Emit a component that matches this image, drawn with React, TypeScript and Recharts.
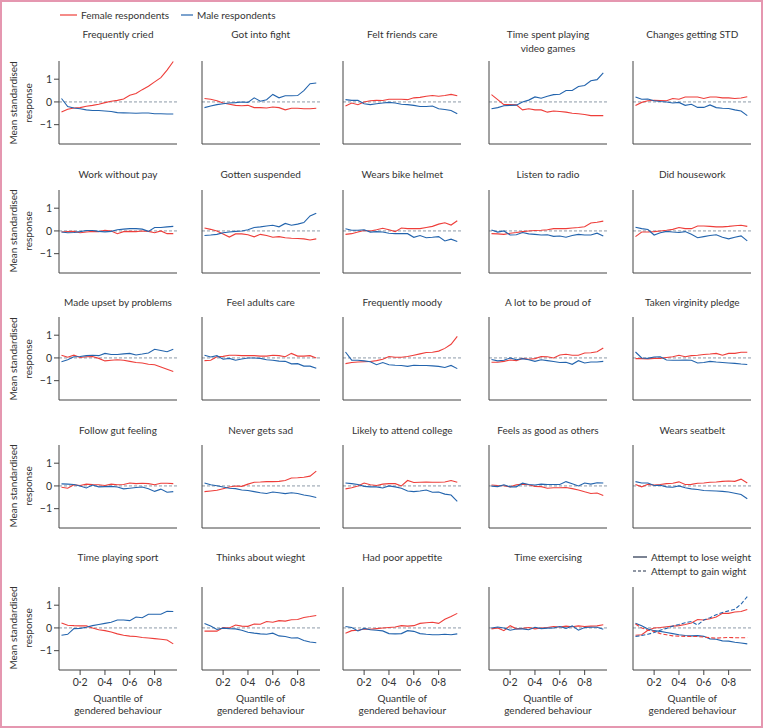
import React from "react";
import { LineChart, Line, XAxis, YAxis, ReferenceLine } from "recharts";

// quantile of gendered behaviour (x)
const QUANTILES = [0.05, 0.1, 0.15, 0.2, 0.25, 0.3, 0.35, 0.4, 0.45, 0.5, 0.55, 0.6, 0.65, 0.7, 0.75, 0.8, 0.85, 0.9, 0.95];
const X_TICKS = [0.2, 0.4, 0.6, 0.8];
const Y_TICKS = [-1, 0, 1];

// row 1
const criedF = [-0.44, -0.32, -0.27, -0.25, -0.19, -0.15, -0.1, -0.03, 0.03, 0.07, 0.13, 0.29, 0.37, 0.54, 0.69, 0.88, 1.07, 1.4, 1.78];
const criedM = [0.15, -0.2, -0.27, -0.3, -0.35, -0.38, -0.38, -0.4, -0.42, -0.47, -0.48, -0.49, -0.5, -0.49, -0.49, -0.52, -0.52, -0.53, -0.53];
const fightF = [0.15, 0.12, 0.05, -0.05, -0.1, -0.15, -0.17, -0.15, -0.25, -0.25, -0.27, -0.22, -0.25, -0.35, -0.28, -0.28, -0.3, -0.3, -0.28];
const fightM = [-0.25, -0.18, -0.12, -0.08, -0.05, -0.03, 0.0, -0.02, 0.18, 0.03, 0.1, 0.33, 0.18, 0.27, 0.27, 0.28, 0.5, 0.8, 0.83];
const friendsF = [-0.18, -0.05, -0.12, 0.0, 0.05, 0.07, 0.06, 0.12, 0.12, 0.12, 0.1, 0.18, 0.2, 0.25, 0.28, 0.25, 0.28, 0.33, 0.27];
const friendsM = [0.1, 0.07, 0.07, -0.08, -0.12, -0.08, -0.05, -0.02, -0.05, -0.1, -0.12, -0.15, -0.2, -0.2, -0.18, -0.3, -0.33, -0.38, -0.52];
const videoF = [0.32, 0.1, -0.12, -0.12, -0.13, -0.35, -0.3, -0.35, -0.35, -0.45, -0.4, -0.42, -0.45, -0.5, -0.52, -0.55, -0.6, -0.6, -0.6];
const videoM = [-0.3, -0.25, -0.17, -0.15, -0.14, 0.0, 0.08, 0.22, 0.16, 0.25, 0.32, 0.34, 0.5, 0.5, 0.68, 0.72, 0.93, 0.98, 1.28];
const stdF = [-0.16, -0.02, 0.05, 0.07, 0.06, 0.05, 0.15, 0.12, 0.22, 0.22, 0.22, 0.15, 0.22, 0.22, 0.18, 0.18, 0.15, 0.17, 0.23];
const stdM = [0.22, 0.12, 0.13, 0.05, 0.02, 0.0, -0.05, -0.02, -0.15, -0.1, -0.24, -0.24, -0.13, -0.25, -0.28, -0.29, -0.35, -0.4, -0.6];

// row 2
const payF = [-0.05, -0.03, -0.02, -0.08, -0.05, -0.02, -0.03, 0.03, 0.0, -0.12, -0.03, -0.02, -0.03, 0.0, -0.02, -0.08, 0.0, -0.12, -0.12];
const payM = [-0.05, -0.08, -0.07, -0.03, 0.02, 0.02, -0.02, -0.04, -0.02, 0.05, 0.08, 0.1, 0.1, 0.08, -0.02, 0.15, 0.15, 0.18, 0.2];
const suspendedF = [0.13, 0.07, 0.0, -0.13, -0.27, -0.13, -0.13, -0.17, -0.26, -0.15, -0.2, -0.28, -0.25, -0.3, -0.32, -0.33, -0.35, -0.4, -0.35];
const suspendedM = [-0.2, -0.18, -0.15, -0.08, -0.05, -0.02, 0.0, 0.05, 0.15, 0.18, 0.22, 0.25, 0.18, 0.33, 0.25, 0.3, 0.37, 0.66, 0.78];
const helmetF = [-0.15, -0.12, -0.05, 0.02, 0.0, 0.05, 0.12, 0.05, -0.03, 0.13, 0.1, 0.1, 0.1, 0.15, 0.2, 0.3, 0.36, 0.26, 0.45];
const helmetM = [0.1, 0.03, 0.03, 0.05, -0.05, -0.03, -0.05, -0.1, -0.12, -0.12, -0.12, -0.28, -0.2, -0.3, -0.28, -0.25, -0.44, -0.36, -0.46];
const radioF = [-0.12, -0.13, -0.15, -0.1, -0.07, -0.03, 0.0, 0.02, 0.03, 0.05, 0.1, 0.1, 0.1, 0.13, 0.15, 0.18, 0.35, 0.38, 0.43];
const radioM = [0.04, -0.05, 0.0, -0.18, -0.17, -0.07, -0.13, -0.15, -0.18, -0.17, -0.24, -0.22, -0.28, -0.2, -0.15, -0.18, -0.18, -0.1, -0.22];
const houseF = [-0.25, -0.05, -0.05, -0.03, 0.0, 0.03, 0.07, 0.15, 0.1, 0.1, 0.22, 0.22, 0.2, 0.18, 0.18, 0.2, 0.23, 0.25, 0.2];
const houseM = [0.16, 0.1, 0.06, -0.18, -0.08, -0.02, -0.05, -0.07, -0.03, -0.15, -0.3, -0.25, -0.2, -0.17, -0.28, -0.35, -0.28, -0.22, -0.44];

// row 3
const upsetF = [0.12, 0.03, 0.12, 0.02, 0.05, 0.06, -0.02, -0.13, -0.1, -0.08, -0.1, -0.15, -0.2, -0.22, -0.28, -0.3, -0.4, -0.5, -0.6];
const upsetM = [-0.17, -0.08, 0.05, 0.06, 0.1, 0.12, 0.1, 0.2, 0.15, 0.15, 0.18, 0.2, 0.13, 0.17, 0.22, 0.38, 0.33, 0.27, 0.38];
const adultsF = [-0.12, -0.1, 0.05, 0.07, 0.12, 0.12, 0.1, 0.1, 0.1, 0.08, 0.08, 0.12, 0.1, 0.05, 0.2, 0.08, 0.08, 0.1, 0.0];
const adultsM = [0.12, 0.04, 0.1, -0.06, -0.02, -0.1, -0.05, 0.0, 0.0, -0.02, -0.08, -0.1, -0.14, -0.15, -0.26, -0.25, -0.36, -0.36, -0.45];
const moodyF = [-0.25, -0.2, -0.18, -0.17, -0.16, -0.12, -0.06, 0.06, 0.03, 0.03, 0.06, 0.12, 0.18, 0.24, 0.25, 0.3, 0.42, 0.6, 0.95];
const moodyM = [0.26, -0.1, -0.1, -0.13, -0.17, -0.3, -0.2, -0.3, -0.32, -0.33, -0.37, -0.32, -0.33, -0.33, -0.35, -0.37, -0.42, -0.33, -0.47];
const proudF = [-0.19, -0.19, -0.15, -0.09, -0.12, -0.02, -0.06, -0.03, 0.06, 0.05, 0.0, 0.13, 0.16, 0.12, 0.12, 0.22, 0.23, 0.27, 0.44];
const proudM = [-0.07, -0.13, -0.1, 0.0, -0.08, -0.03, -0.08, -0.15, -0.08, -0.12, -0.16, -0.2, -0.19, -0.28, -0.12, -0.22, -0.18, -0.18, -0.15];
const pledgeF = [-0.03, -0.03, -0.04, -0.02, -0.02, 0.02, 0.05, 0.12, 0.05, 0.1, 0.12, 0.15, 0.17, 0.2, 0.12, 0.2, 0.2, 0.25, 0.25];
const pledgeM = [0.26, 0.0, -0.02, 0.04, 0.05, -0.09, -0.1, -0.1, -0.09, -0.1, -0.22, -0.2, -0.15, -0.18, -0.2, -0.22, -0.24, -0.27, -0.29];

// row 4
const gutF = [-0.06, -0.1, 0.05, 0.02, 0.08, 0.06, 0.05, 0.02, 0.08, 0.05, 0.06, 0.13, 0.1, 0.12, 0.1, 0.05, 0.12, 0.12, 0.1];
const gutM = [0.09, 0.08, 0.06, 0.0, -0.09, 0.04, -0.04, -0.03, -0.02, -0.05, -0.13, -0.1, -0.07, -0.05, -0.12, -0.24, -0.14, -0.28, -0.25];
const sadF = [-0.25, -0.22, -0.19, -0.12, -0.05, 0.0, -0.02, 0.08, 0.16, 0.17, 0.19, 0.19, 0.2, 0.24, 0.35, 0.36, 0.38, 0.43, 0.65];
const sadM = [0.13, 0.05, 0.01, -0.05, -0.1, -0.12, -0.18, -0.2, -0.25, -0.3, -0.33, -0.27, -0.3, -0.34, -0.3, -0.33, -0.4, -0.44, -0.51];
const collegeF = [-0.13, -0.08, 0.0, 0.13, 0.05, 0.02, 0.08, 0.1, 0.1, 0.0, 0.24, 0.15, 0.16, 0.17, 0.16, 0.16, 0.17, 0.24, 0.16];
const collegeM = [0.13, 0.1, 0.06, -0.02, -0.04, -0.04, -0.09, 0.0, -0.04, -0.1, -0.22, -0.25, -0.22, -0.18, -0.28, -0.27, -0.36, -0.4, -0.68];
const goodF = [0.04, 0.02, 0.01, -0.04, 0.05, 0.08, 0.05, -0.02, -0.03, -0.1, -0.08, -0.08, -0.07, -0.12, -0.18, -0.26, -0.33, -0.31, -0.42];
const goodM = [-0.01, -0.03, 0.05, -0.04, -0.04, 0.12, 0.06, 0.04, 0.08, 0.06, 0.06, 0.06, 0.19, 0.1, 0.0, 0.13, 0.08, 0.14, 0.13];
const seatbeltF = [0.06, -0.04, 0.07, 0.04, 0.06, 0.1, 0.12, 0.18, 0.06, 0.07, 0.12, 0.13, 0.16, 0.17, 0.2, 0.22, 0.2, 0.3, 0.13];
const seatbeltM = [0.19, 0.13, 0.13, 0.02, 0.03, -0.04, -0.06, 0.0, -0.08, -0.13, -0.16, -0.2, -0.21, -0.22, -0.24, -0.27, -0.32, -0.38, -0.56];

// row 5
const sportF = [0.22, 0.12, 0.1, 0.09, 0.09, 0.0, -0.08, -0.12, -0.18, -0.26, -0.32, -0.36, -0.38, -0.42, -0.44, -0.47, -0.5, -0.53, -0.7];
const sportM = [-0.32, -0.28, -0.03, -0.02, 0.03, 0.1, 0.15, 0.2, 0.25, 0.35, 0.35, 0.32, 0.48, 0.45, 0.6, 0.6, 0.6, 0.73, 0.72];
const thinksF = [-0.14, -0.14, -0.14, 0.02, 0.0, 0.13, 0.08, 0.07, 0.17, 0.16, 0.28, 0.25, 0.32, 0.3, 0.36, 0.37, 0.46, 0.5, 0.55];
const thinksM = [0.19, 0.08, -0.07, -0.01, -0.03, -0.04, -0.1, -0.19, -0.23, -0.26, -0.28, -0.23, -0.35, -0.38, -0.44, -0.43, -0.55, -0.62, -0.65];
const appetiteF = [-0.23, -0.12, -0.1, -0.05, -0.06, -0.03, 0.0, 0.02, 0.04, 0.1, 0.08, 0.1, 0.2, 0.23, 0.25, 0.2, 0.38, 0.5, 0.64];
const appetiteM = [0.06, 0.02, -0.13, -0.02, -0.08, -0.1, -0.13, -0.25, -0.26, -0.25, -0.12, -0.15, -0.25, -0.28, -0.3, -0.3, -0.28, -0.3, -0.26];
const exerciseF = [-0.04, 0.0, -0.12, 0.1, -0.04, -0.02, 0.02, -0.04, 0.0, 0.02, 0.06, 0.04, 0.08, 0.05, 0.09, 0.06, 0.08, 0.09, 0.14];
const exerciseM = [0.0, 0.04, 0.0, -0.1, -0.05, -0.04, -0.08, 0.03, -0.03, -0.01, 0.0, 0.06, -0.02, 0.09, -0.1, 0.02, 0.03, 0.03, -0.06];
const loseF = [-0.32, -0.3, -0.1, 0.0, 0.02, 0.05, 0.08, 0.1, 0.15, 0.22, 0.37, 0.35, 0.4, 0.48, 0.64, 0.64, 0.7, 0.72, 0.81];
const loseM = [0.2, 0.1, -0.05, -0.12, -0.15, -0.2, -0.25, -0.3, -0.33, -0.35, -0.34, -0.37, -0.48, -0.5, -0.57, -0.58, -0.63, -0.66, -0.7];
const gainF = [0.17, 0.0, -0.1, -0.15, -0.25, -0.3, -0.35, -0.36, -0.37, -0.38, -0.38, -0.4, -0.43, -0.45, -0.43, -0.42, -0.43, -0.43, -0.43];
const gainM = [-0.38, -0.33, -0.28, -0.2, -0.1, -0.02, 0.08, 0.15, 0.23, 0.28, 0.13, 0.35, 0.45, 0.58, 0.68, 0.75, 0.82, 1.05, 1.38];

const TITLES = [
  "Frequently cried", "Got into fight", "Felt friends care", "Time spent playing\nvideo games", "Changes getting STD",
  "Work without pay", "Gotten suspended", "Wears bike helmet", "Listen to radio", "Did housework",
  "Made upset by problems", "Feel adults care", "Frequently moody", "A lot to be proud of", "Taken virginity pledge",
  "Follow gut feeling", "Never gets sad", "Likely to attend college", "Feels as good as others", "Wears seatbelt",
  "Time playing sport", "Thinks about wieght", "Had poor appetite", "Time exercising", "",
];
const FEMALE = [
  criedF, fightF, friendsF, videoF, stdF,
  payF, suspendedF, helmetF, radioF, houseF,
  upsetF, adultsF, moodyF, proudF, pledgeF,
  gutF, sadF, collegeF, goodF, seatbeltF,
  sportF, thinksF, appetiteF, exerciseF, loseF,
];
const MALE = [
  criedM, fightM, friendsM, videoM, stdM,
  payM, suspendedM, helmetM, radioM, houseM,
  upsetM, adultsM, moodyM, proudM, pledgeM,
  gutM, sadM, collegeM, goodM, seatbeltM,
  sportM, thinksM, appetiteM, exerciseM, loseM,
];

const RED = "#ee3e3a";
const BLUE = "#2364ad";
const INK = "#333";
const FONT = "Lato, 'Open Sans', sans-serif";
const FS = 10;

// layout
const COL_X = [59, 201.7, 343.3, 489, 633.3];
const ROW_TOP = [61, 189.5, 317, 444.5, 586.5];
const TITLE_Y = [34, 174, 302, 430, 557];
const PLOT_W = 118;
const PLOT_H = 83;
const Y_W = 40;
const M_TOP = 4;

const fmtX = (v: number) => v.toFixed(1).replace(".", "·");
const fmtY = (v: number) => (v < 0 ? "\u2212" + Math.abs(v) : String(v));

const Panel = ({ idx }: { idx: number }) => {
  const r = Math.floor(idx / 5);
  const c = idx % 5;
  const last = idx === 24;
  const xh = r === 4 ? 26 : 8;
  const data = QUANTILES.map((q, i) => ({
    q,
    f: FEMALE[idx][i],
    m: MALE[idx][i],
    fg: last ? gainF[i] : null,
    mg: last ? gainM[i] : null,
  }));
  const cx = COL_X[c] + PLOT_W / 2;
  const lines = TITLES[idx].split("\n");
  return (
    <>
      {lines.map((t, k) => (
        <div
          key={k}
          style={{
            position: "absolute",
            left: cx - 80,
            width: 160,
            top: TITLE_Y[r] - 7 + k * 13.7,
            height: 14,
            lineHeight: "14px",
            textAlign: "center",
            fontSize: FS,
            color: INK,
            whiteSpace: "nowrap",
          }}
        >
          {t}
        </div>
      ))}
      <div style={{ position: "absolute", left: COL_X[c] - Y_W, top: ROW_TOP[r] - M_TOP }}>
        <LineChart
          width={Y_W + PLOT_W + 6}
          height={M_TOP + PLOT_H + xh}
          data={data}
          margin={{ top: M_TOP, right: 6, bottom: 0, left: 0 }}
        >
          <XAxis
            dataKey="q"
            type="number"
            domain={[0.03, 0.98]}
            ticks={X_TICKS}
            interval={0}
            allowDataOverflow
            height={xh}
            tickSize={5}
            tickMargin={4}
            tickFormatter={fmtX}
            tick={r === 4 ? { fontSize: 10.5, fill: INK, fontFamily: FONT } : false}
            axisLine={{ stroke: "#444" }}
            tickLine={{ stroke: "#444" }}
          />
          <YAxis
            type="number"
            domain={[-1.85, 1.8]}
            ticks={Y_TICKS}
            interval={0}
            allowDataOverflow
            width={Y_W}
            tickSize={5}
            tickFormatter={fmtY}
            tick={c === 0 ? { fontSize: 10.5, fill: INK, fontFamily: FONT } : false}
            axisLine={{ stroke: "#444" }}
            tickLine={{ stroke: "#444" }}
          />
          <ReferenceLine y={0} stroke="#8d9aa8" strokeDasharray="3 2" />
          <Line type="linear" dataKey="f" stroke={RED} strokeWidth={1.1} dot={false} isAnimationActive={false} />
          <Line type="linear" dataKey="m" stroke={BLUE} strokeWidth={1.1} dot={false} isAnimationActive={false} />
          {last && (
            <Line type="linear" dataKey="fg" stroke={RED} strokeWidth={1.1} strokeDasharray="4 2" dot={false} isAnimationActive={false} />
          )}
          {last && (
            <Line type="linear" dataKey="mg" stroke={BLUE} strokeWidth={1.1} strokeDasharray="4 2" dot={false} isAnimationActive={false} />
          )}
        </LineChart>
      </div>
      {c === 0 && (
        <div
          style={{
            position: "absolute",
            left: 20.8,
            top: ROW_TOP[r] + PLOT_H / 2,
            transform: "translate(-50%, -50%) rotate(-90deg)",
            textAlign: "center",
            fontSize: FS,
            lineHeight: "15px",
            color: INK,
            whiteSpace: "nowrap",
          }}
        >
          Mean standardised
          <br />
          response
        </div>
      )}
      {r === 4 && (
        <div
          style={{
            position: "absolute",
            left: cx - 80,
            width: 160,
            top: 691.5,
            textAlign: "center",
            fontSize: FS,
            lineHeight: "12.7px",
            color: INK,
          }}
        >
          Quantile of
          <br />
          gendered behaviour
        </div>
      )}
    </>
  );
};

const LegendItem = ({ x, y, w, color, dash, label }: any) => (
  <>
    <svg style={{ position: "absolute", left: x, top: y - 2 }} width={w} height={4}>
      <line x1={0} x2={w} y1={2} y2={2} stroke={color} strokeWidth={1.2} strokeDasharray={dash} />
    </svg>
    <div
      style={{
        position: "absolute",
        left: x + w + 4,
        top: y - 7,
        height: 14,
        lineHeight: "14px",
        fontSize: FS,
        color: INK,
        whiteSpace: "nowrap",
      }}
    >
      {label}
    </div>
  </>
);

export default function App() {
  return (
    <div style={{ position: "relative", width: 763, height: 728, background: "#fff", fontFamily: FONT, overflow: "hidden" }}>
      <style>{"body{margin:0}"}</style>
      <div
        style={{
          position: "absolute",
          left: 0,
          top: 0,
          width: 763,
          height: 728,
          boxSizing: "border-box",
          border: "2px solid #e597b0",
        }}
      />
      <LegendItem x={60} y={15} w={17} color={RED} label="Female respondents" />
      <LegendItem x={181} y={15} w={12} color={BLUE} label="Male respondents" />
      {TITLES.map((_, i) => (
        <Panel key={i} idx={i} />
      ))}
      <LegendItem x={633} y={557} w={14} color="#22304a" label="Attempt to lose weight" />
      <LegendItem x={633} y={570.7} w={14} color="#22304a" dash="3 2" label="Attempt to gain wight" />
    </div>
  );
}
